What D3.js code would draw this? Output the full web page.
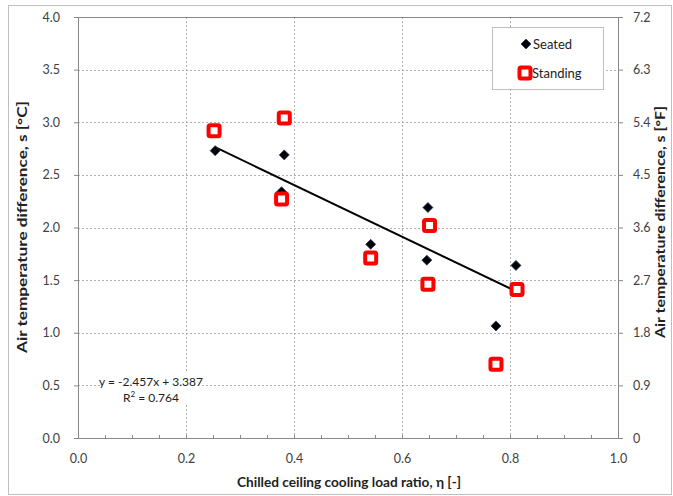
<!DOCTYPE html>
<html><head><meta charset="utf-8">
<script src="https://cdn.jsdelivr.net/npm/d3@7"></script>
<style>body{margin:0;background:#fff}svg{display:block}text{font-family:Lato,"Open Sans",sans-serif}</style>
</head><body>
<svg id="c" width="673" height="496"></svg>
<script>
const seatedX = [0.254, 0.382, 0.377, 0.542, 0.648, 0.646, 0.811, 0.774];
const seatedY = [2.73, 2.69, 2.34, 1.84, 2.19, 1.69, 1.64, 1.065];
const standingX = [0.252, 0.382, 0.377, 0.542, 0.651, 0.648, 0.813, 0.774];
const standingY = [2.92, 3.04, 2.27, 1.71, 2.02, 1.46, 1.41, 0.70];
const slope = -2.457, intercept = 3.387, r2 = 0.764;
const trendRange = [0.254, 0.813];
const xTicks = [0, 0.2, 0.4, 0.6, 0.8, 1.0];
const yTicks = [0, 0.5, 1, 1.5, 2, 2.5, 3, 3.5, 4];
const yTicksF = [0, 0.9, 1.8, 2.7, 3.6, 4.5, 5.4, 6.3, 7.2];

const svg = d3.select("#c");
const L = 78, R = 618, T = 17, B = 438;
const x = d3.scaleLinear().domain([0, 1]).range([L, R]);
const y = d3.scaleLinear().domain([0, 4]).range([B, T]);
const yF = d3.scaleLinear().domain([0, 7.2]).range([B, T]);

// outer border
svg.append("rect").attr("x", 8.5).attr("y", 5.5).attr("width", 663).attr("height", 489)
  .attr("fill", "#fff").attr("stroke", "#bfbfbf");

// gridlines
const grid = svg.append("g").attr("stroke", "#b0b0b0").attr("stroke-dasharray", "2,2").attr("stroke-width", 1);
xTicks.slice(1, -1).forEach(v => grid.append("line").attr("x1", Math.round(x(v)) + 0.5).attr("x2", Math.round(x(v)) + 0.5).attr("y1", T).attr("y2", B));
yTicks.slice(1, -1).forEach(v => grid.append("line").attr("x1", L).attr("x2", R).attr("y1", Math.round(y(v)) + 0.5).attr("y2", Math.round(y(v)) + 0.5));

// plot border
svg.append("rect").attr("x", L + 0.5).attr("y", T + 0.5).attr("width", R - L).attr("height", B - T)
  .attr("fill", "none").attr("stroke", "#888");

// axes
const tickColor = "#888";
const xAxis = svg.append("g").attr("transform", `translate(0,${B})`)
  .call(d3.axisBottom(x).tickValues(d3.range(0, 1.0001, 0.05)).tickSize(-3).tickFormat(""));
xAxis.select(".domain").remove();
xAxis.selectAll("line").attr("stroke", tickColor);
const xLab = svg.append("g").attr("transform", `translate(0,${B})`)
  .call(d3.axisBottom(x).tickValues(xTicks).tickSize(0).tickPadding(16).tickFormat(d3.format(".1f")));
xLab.select(".domain").remove();
xLab.selectAll("text").attr("font-size", 12.5).attr("fill", "#404040").attr("font-family", "Lato");

const yAxis = svg.append("g").attr("transform", `translate(${L},0)`)
  .call(d3.axisLeft(y).tickValues(yTicks).tickSize(4).tickPadding(14).tickFormat(d3.format(".1f")));
yAxis.select(".domain").remove();
yAxis.selectAll("line").attr("stroke", tickColor);
yAxis.selectAll("text").attr("font-size", 12.5).attr("fill", "#404040").attr("font-family", "Lato");

const yAxisR = svg.append("g").attr("transform", `translate(${R},0)`)
  .call(d3.axisRight(yF).tickValues(yTicksF).tickSize(5).tickPadding(10).tickFormat(d => d === 0 ? "0" : d3.format(".1f")(d)));
yAxisR.select(".domain").remove();
yAxisR.selectAll("line").attr("stroke", tickColor);
yAxisR.selectAll("text").attr("font-size", 12.5).attr("fill", "#404040").attr("font-family", "Lato");

// titles
svg.append("text").attr("x", 349).attr("y", 487).attr("text-anchor", "middle")
  .attr("font-size", 13).attr("font-weight", "bold").attr("fill", "#222")
  .attr("textLength", 224).attr("lengthAdjust", "spacingAndGlyphs")
  .text("Chilled ceiling cooling load ratio, η [-]");
svg.append("text").attr("transform", "translate(27,227) rotate(-90)").attr("text-anchor", "middle")
  .attr("font-size", 13).attr("font-weight", "bold").attr("fill", "#222")
  .attr("textLength", 252).attr("lengthAdjust", "spacingAndGlyphs")
  .text("Air temperature difference, s  [°C]");
svg.append("text").attr("transform", "translate(665,222) rotate(-90)").attr("text-anchor", "middle")
  .attr("font-size", 13).attr("font-weight", "bold").attr("fill", "#222")
  .attr("textLength", 232).attr("lengthAdjust", "spacingAndGlyphs")
  .text("Air temperature  difference, s [°F]");

// trend line
svg.append("line")
  .attr("x1", x(trendRange[0])).attr("y1", y(slope * trendRange[0] + intercept))
  .attr("x2", x(trendRange[1])).attr("y2", y(slope * trendRange[1] + intercept))
  .attr("stroke", "#000").attr("stroke-width", 2);

// markers
function diamond(g, cx, cy) {
  g.append("path").attr("d", `M${cx},${cy - 5}L${cx + 5},${cy}L${cx},${cy + 5}L${cx - 5},${cy}Z`)
    .attr("fill", "#000").attr("stroke", "#1f3864").attr("stroke-width", 0.8);
}
function square(g, cx, cy) {
  g.append("rect").attr("x", cx - 5.5).attr("y", cy - 5.5).attr("width", 11).attr("height", 11)
    .attr("rx", 1.5).attr("fill", "#fff").attr("stroke", "#ff0000").attr("stroke-width", 4);
}
const mk = svg.append("g");
seatedX.forEach((v, i) => diamond(mk, x(v), y(seatedY[i])));
standingX.forEach((v, i) => square(mk, x(v), y(standingY[i])));

// equation
const eq = svg.append("g");
eq.append("rect").attr("x", 101).attr("y", 372).attr("width", 100).attr("height", 32).attr("fill", "#fff");
eq.append("text").attr("x", 151).attr("y", 386).attr("text-anchor", "middle").attr("font-size", 12).attr("fill", "#222")
  .text(`y = ${slope}x + ${intercept}`);
const r2t = eq.append("text").attr("x", 151).attr("y", 402).attr("text-anchor", "middle").attr("font-size", 12).attr("fill", "#222");
r2t.append("tspan").text("R");
r2t.append("tspan").attr("font-size", 8).attr("dy", -5).text("2");
r2t.append("tspan").attr("dy", 5).text(` = ${r2}`);

// legend
const lg = svg.append("g");
lg.append("rect").attr("x", 492.5).attr("y", 27.5).attr("width", 111).attr("height", 62)
  .attr("fill", "#fff").attr("stroke", "#bfbfbf");
diamond(lg, 526, 44);
lg.append("text").attr("x", 533).attr("y", 49).attr("font-size", 13).attr("fill", "#222").text("Seated");
square(lg, 525, 73);
lg.append("text").attr("x", 532).attr("y", 78).attr("font-size", 13).attr("fill", "#222").text("Standing");
</script>
</body></html>
